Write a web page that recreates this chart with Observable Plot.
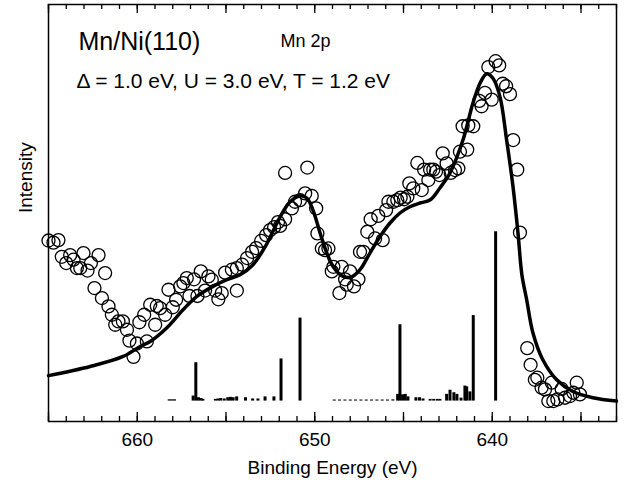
<!DOCTYPE html>
<html>
<head>
<meta charset="utf-8">
<script src="https://cdn.jsdelivr.net/npm/d3@7"></script>
<script src="https://cdn.jsdelivr.net/npm/@observablehq/plot@0.6"></script>
<style>
  html, body { margin: 0; padding: 0; background: #fff; }
  #chart svg { display: block; }
</style>
</head>
<body>
<div id="chart"></div>
<script>
// ---- data (binding energy in eV, intensity in arbitrary units) ----
const xDomain = [665, 633];
const yDomain = [0, 100];
const tickLabels = [660, 650, 640];
const xLabel = "Binding Energy (eV)";
const yLabel = "Intensity";
const title = "Mn/Ni(110)";
const edge = "Mn 2p";
const params = "\u0394 = 1.0 eV, U = 3.0 eV, T = 1.2 eV";

// calculated spectrum (solid line)
const calcE = [665.00, 662.65, 660.79, 659.84, 659.27, 658.33, 657.42, 656.64, 655.73, 654.95, 654.21, 653.48, 652.74,
  651.95, 651.39, 650.83, 650.45, 650.10, 649.70, 649.32, 648.97, 648.41, 647.92, 647.45, 646.89, 646.33, 645.76,
  645.20, 644.64, 644.07, 643.51, 642.95, 642.38, 641.65, 641.09, 640.69, 640.31, 639.96, 639.56, 639.19, 638.83,
  638.55, 638.33, 638.06, 637.71, 637.15, 636.37, 635.46, 634.33, 633.00];
const calcI = [11.0, 13.2, 15.6, 18.0, 19.2, 22.5, 26.8, 30.0, 32.4, 34.0, 35.2, 37.6, 42.3,
  49.1, 52.7, 54.1, 53.6, 50.7, 45.2, 40.4, 37.2, 34.8, 34.7, 36.4, 40.4, 44.3, 47.6,
  50.0, 51.5, 52.4, 53.1, 56.0, 59.6, 67.5, 76.3, 81.1, 83.4, 82.3, 77.8, 67.5, 56.3,
  45.2, 35.2, 29.2, 21.3, 14.8, 10.0, 7.2, 5.7, 4.9];

// experimental data (open circles)
const expE = [665.00, 664.72, 664.44, 664.25, 664.00, 663.78, 663.59, 663.40, 663.21, 663.03, 662.80, 662.61, 662.18,
  661.81, 662.41, 661.99, 661.62, 661.43, 661.24, 661.06, 660.81, 660.58, 660.44, 660.02, 660.21, 659.46, 659.88,
  659.61, 658.99, 659.27, 658.90, 658.71, 658.43, 658.24, 658.00, 657.81, 657.58, 657.40, 657.21, 657.06, 656.80,
  656.61, 656.42, 656.18, 655.99, 655.80, 655.61, 655.43, 655.24, 655.05, 654.67, 654.39, 654.39, 654.09, 653.81,
  653.53, 653.30, 653.02, 652.74, 652.52, 652.29, 652.07, 651.67, 650.42, 651.95, 651.67, 651.29, 651.11, 650.83,
  650.54, 650.17, 649.92, 649.85, 649.60, 649.42, 649.23, 648.95, 649.04, 648.48, 648.29, 648.01, 648.20, 648.61,
  647.79, 647.54, 647.45, 647.26, 647.04, 646.85, 646.60, 646.42, 646.17, 645.98, 645.85, 645.57, 645.35, 645.16,
  644.97, 644.78, 644.67, 644.45, 643.97, 644.22, 643.84, 643.60, 643.50, 643.32, 643.17, 642.98, 642.79, 642.57,
  642.34, 642.10, 641.91, 641.82, 641.41, 641.67, 641.35, 641.07, 640.22, 639.81, 639.61, 639.41, 639.22, 639.00,
  640.41, 640.73, 640.60, 640.03, 638.82, 638.59, 638.44, 638.03, 637.84, 637.60, 637.46, 637.22, 637.03, 636.65,
  636.84, 636.56, 636.33, 636.09, 635.90, 635.62, 635.43, 635.24, 635.06];
const expI = [43.4, 42.9, 43.5, 39.5, 38.0, 39.9, 38.8, 36.8, 36.8, 40.4, 36.2, 38.0, 39.9,
  35.6, 32.0, 29.6, 27.6, 25.6, 23.2, 24.0, 24.0, 22.0, 19.4, 18.7, 15.5, 19.2, 23.8,
  25.6, 23.2, 28.0, 27.7, 27.2, 25.6, 31.6, 27.4, 29.2, 32.4, 33.2, 34.4, 30.1, 34.1,
  30.1, 36.0, 31.4, 34.8, 34.0, 31.4, 29.3, 30.8, 35.7, 36.4, 31.4, 36.8, 37.6, 39.2,
  40.7, 41.6, 43.3, 44.7, 45.9, 46.6, 47.8, 59.6, 60.9, 46.9, 48.5, 51.1, 52.7, 53.1,
  54.7, 54.1, 51.1, 45.1, 41.5, 41.1, 41.5, 37.1, 36.0, 37.1, 34.1, 36.0, 32.8, 30.8,
  32.4, 34.1, 40.7, 40.7, 45.5, 48.5, 43.9, 49.3, 43.5, 50.7, 52.7, 52.7, 53.1, 53.7,
  53.3, 53.9, 57.1, 55.9, 55.5, 62.0, 60.4, 57.9, 60.4, 60.4, 59.9, 59.1, 64.3, 61.9,
  59.6, 60.3, 60.7, 64.7, 65.2, 70.8, 71.0, 70.8, 85.0, 86.4, 85.4, 81.0, 80.4, 78.5,
  78.8, 76.9, 75.6, 77.2, 67.5, 60.4, 45.3, 17.6, 13.6, 10.0, 10.5, 8.1, 7.7, 9.3,
  4.9, 4.9, 5.3, 7.8, 5.7, 6.1, 6.9, 9.3, 6.5];

// multiplet stick spectrum
const stickBase = 4.9;
const stickE = [656.70, 651.90, 650.83, 645.20, 641.07, 639.81,
  658.20, 658.05, 657.90, 656.85, 656.55, 656.40, 656.30,
  655.60, 655.45, 655.30, 655.10, 654.90, 654.75, 654.60, 654.40, 653.90, 653.50, 653.20, 652.80, 652.30,
  648.90, 648.60, 648.30, 648.00, 647.70, 647.40, 647.10, 646.80, 646.50, 646.20, 645.90, 645.60,
  645.33, 645.05, 644.90, 644.75, 644.30, 644.10, 643.90, 643.50, 643.30, 643.10, 642.95,
  642.57, 642.38, 642.16, 641.99, 641.76, 641.54, 641.44, 641.26];
const stickH = [9.2, 10.1, 19.9, 18.3, 20.5, 40.6,
  0.3, 0.3, 0.3, 1.2, 0.8, 0.6, 0.4,
  0.4, 0.5, 0.6, 0.5, 0.8, 0.9, 0.8, 1.0, 0.8, 0.5, 0.5, 1.0, 1.0,
  0.25, 0.25, 0.25, 0.25, 0.25, 0.25, 0.25, 0.25, 0.25, 0.25, 0.25, 0.3,
  1.6, 1.5, 1.6, 1.0, 0.8, 0.8, 0.5, 0.4, 0.4, 0.4, 0.4,
  1.6, 2.6, 2.0, 1.6, 0.7, 3.6, 3.4, 2.2];

const minorTicks = d3.range(633, 666, 1);
const majorTicks = d3.range(635, 666, 5);

// ---- build tables ----
const calc = calcE.map((e, i) => ({e, v: calcI[i]}));
const exp = expE.map((e, i) => ({e, v: expI[i]}));
const sticks = stickE.map((e, i) => ({e, y1: stickBase, y2: stickBase + stickH[i]}));

const W = 624, H = 487;
const mTop = 4, mBottom = 66, mLeft = 48, mRight = 8;
const innerH = H - mTop - mBottom;
const font = "'Liberation Sans', Arial, Helvetica, sans-serif";

const chart = Plot.plot({
  width: W,
  height: H,
  marginTop: mTop,
  marginBottom: mBottom,
  marginLeft: mLeft,
  marginRight: mRight,
  style: {fontFamily: font, background: "#fff", color: "#000"},
  x: {domain: xDomain, label: null},
  y: {domain: yDomain, axis: null},
  marks: [
    Plot.axisX({ticks: tickLabels, tickSize: 0, tickPadding: 11, fontSize: 19, label: null, tickFormat: d => String(d)}),
    // inward ticks, bottom and top
    Plot.ruleX(minorTicks, {x: d => d, insetTop: innerH - 5, stroke: "#000", strokeWidth: 1.3}),
    Plot.ruleX(majorTicks, {x: d => d, insetTop: innerH - 9, stroke: "#000", strokeWidth: 1.3}),
    Plot.ruleX(minorTicks, {x: d => d, insetBottom: innerH - 5, stroke: "#000", strokeWidth: 1.3}),
    Plot.ruleX(majorTicks, {x: d => d, insetBottom: innerH - 9, stroke: "#000", strokeWidth: 1.3}),
    Plot.ruleX(sticks, {x: "e", y1: "y1", y2: "y2", stroke: "#000", strokeWidth: 3}),
    Plot.line(calc, {x: "e", y: "v", curve: "catmull-rom", stroke: "#000", strokeWidth: 3.5}),
    Plot.dot(exp, {x: "e", y: "v", r: 6.5, stroke: "#000", strokeWidth: 1.3, fill: "none"}),
    Plot.frame({stroke: "#000", strokeWidth: 1.5}),
    Plot.text([title], {frameAnchor: "top-left", dx: 30, dy: 37, fontSize: 25, textAnchor: "start", lineAnchor: "middle", fill: "#000"}),
    Plot.text([edge], {frameAnchor: "top-left", dx: 232, dy: 37, fontSize: 18, textAnchor: "start", lineAnchor: "middle", fill: "#000"}),
    Plot.text([params], {frameAnchor: "top-left", dx: 28, dy: 77, fontSize: 21, textAnchor: "start", lineAnchor: "middle", fill: "#000"}),
    Plot.text([xLabel], {frameAnchor: "bottom", dy: 46, fontSize: 19, lineAnchor: "middle", fill: "#000"}),
    Plot.text([yLabel], {frameAnchor: "left", dx: -23, rotate: -90, fontSize: 19, lineAnchor: "middle", fill: "#000"})
  ]
});
document.getElementById("chart").appendChild(chart);
</script>
</body>
</html>
